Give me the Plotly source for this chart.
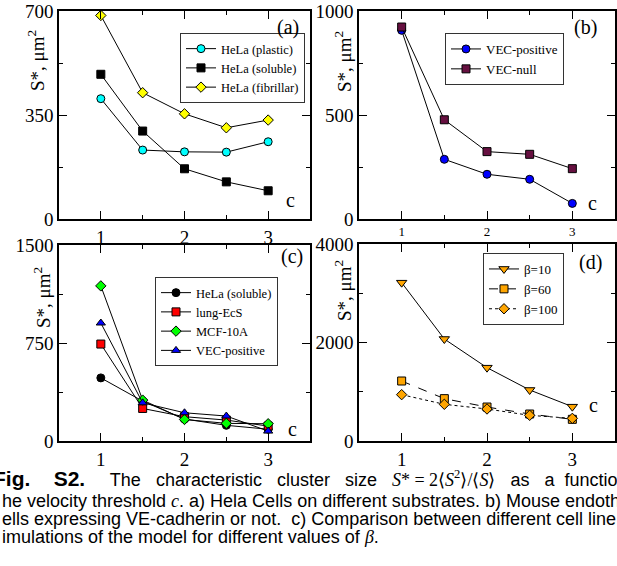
import plotly.graph_objects as go

# ---------------- data ----------------
c_vals = [1, 1.5, 2, 2.5, 3]
x_tickvals = [1, 2, 3]
x_ticktext = ["1", "2", "3"]

# (a) HeLa cells on different substrates
hela_plastic = [405, 232, 226, 225, 260]
hela_soluble = [487, 296, 169, 125, 95]
hela_fibrillar = [685, 425, 354, 307, 333]

# (b) mouse endothelial cells
vec_positive = [907, 287, 215, 191, 75]
vec_null = [923, 477, 324, 311, 242]

# (c) comparison between cell lines
c_hela_soluble = [483, 305, 168, 120, 90]
c_lung_ecs = [742, 249, 186, 160, 114]
c_mcf10a = [1187, 313, 165, 135, 132]
c_vec_positive = [903, 292, 216, 191, 76]

# (d) simulations, different beta
beta10 = [3215, 2071, 1489, 1036, 697]
beta60 = [1218, 860, 690, 548, 440]
beta100 = [941, 745, 650, 521, 460]

y_ticks_a = [0, 350, 700]
y_minor_a = [175, 525]
y_ticks_b = [0, 500, 1000]
y_minor_b = [250, 750]
y_ticks_c = [0, 750, 1500]
y_minor_c = [375, 1125]
y_ticks_d = [0, 2000, 4000]
y_minor_d = [1000, 3000]
x_minor = [1.5, 2.5]

W, H = 617, 566
SERIF = "Liberation Serif"
SANS = "Liberation Sans"


def px(x):
    return x / W


def py(y):
    return 1 - y / H


fig = go.Figure()


def add(x, y, name, sym, color, xa, ya, legend, size=8, dash="solid"):
    fig.add_trace(go.Scatter(
        x=x, y=y, name=name, mode="lines+markers",
        xaxis=xa, yaxis=ya, legend=legend,
        line=dict(color="black", width=1, dash=dash),
        marker=dict(symbol=sym, size=size, color=color,
                    line=dict(color="black", width=1)),
    ))


# panel a
add(c_vals, hela_plastic, "HeLa (plastic)", "circle", "#00FFFF", "x", "y", "legend", 8)
add(c_vals, hela_soluble, "HeLa (soluble)", "square", "#000000", "x", "y", "legend", 8)
add(c_vals, hela_fibrillar, "HeLa (fibrillar)", "diamond", "#FFFF00", "x", "y", "legend", 8)
# panel b
add(c_vals, vec_positive, "VEC-positive", "circle", "#0000FF", "x2", "y2", "legend2", 8)
add(c_vals, vec_null, "VEC-null", "square", "#661040", "x2", "y2", "legend2", 8)
# panel c
add(c_vals, c_hela_soluble, "HeLa (soluble)", "circle", "#000000", "x3", "y3", "legend3", 8)
add(c_vals, c_lung_ecs, "lung-EcS", "square", "#FF0000", "x3", "y3", "legend3", 8)
add(c_vals, c_mcf10a, "MCF-10A", "diamond", "#00FF00", "x3", "y3", "legend3", 8)
add(c_vals, c_vec_positive, "VEC-positive", "triangle-up", "#0000FF", "x3", "y3", "legend3", 8)
# panel d
add(c_vals, beta10, "β=10", "triangle-down", "#FFA500", "x4", "y4", "legend4", 9)
add(c_vals, beta60, "β=60", "square", "#FFA500", "x4", "y4", "legend4", 8, "dash")
add(c_vals, beta100, "β=100", "diamond", "#FFA500", "x4", "y4", "legend4", 8, "dot")


def xaxis(domain, anchor, fsize):
    return dict(domain=domain, anchor=anchor, range=[0.5, 3.5],
                tickvals=x_tickvals, ticktext=x_ticktext,
                ticks="inside", ticklen=8, tickwidth=1.2, tickcolor="black",
                minor=dict(tickvals=x_minor, ticks="inside", ticklen=4,
                           tickwidth=1.2, tickcolor="black"),
                showline=True, linewidth=1.5, linecolor="black", mirror="allticks",
                showgrid=False, zeroline=False, automargin=False,
                tickfont=dict(family=SERIF, size=fsize, color="black"))


def yaxis(domain, anchor, rng, ticks, minor):
    return dict(domain=domain, anchor=anchor, range=rng,
                tickvals=ticks, ticktext=[str(t) for t in ticks],
                ticks="inside", ticklen=8, tickwidth=1.2, tickcolor="black",
                minor=dict(tickvals=minor, ticks="inside", ticklen=4,
                           tickwidth=1.2, tickcolor="black"),
                showline=True, linewidth=1.5, linecolor="black", mirror="allticks",
                showgrid=False, zeroline=False, automargin=False,
                tickfont=dict(family=SERIF, size=19, color="black"))


xa_dom = [px(59), px(310)]
xb_dom = [px(359), px(615)]
ytop_dom = [py(219), py(11)]
ybot_dom = [py(441), py(245)]


def legend_cfg(x, y, fsize):
    return dict(x=px(x), y=py(y), xanchor="left", yanchor="top",
                bordercolor="#333333", borderwidth=1, bgcolor="white",
                font=dict(family=SERIF, size=fsize, color="black"),
                tracegroupgap=0, itemwidth=30)


fig.update_layout(
    width=W, height=H, margin=dict(l=0, r=0, t=0, b=0, autoexpand=False),
    paper_bgcolor="white", plot_bgcolor="white", showlegend=True,
    xaxis=xaxis(xa_dom, "y", 19),
    yaxis=yaxis(ytop_dom, "x", [0, 700], y_ticks_a, y_minor_a),
    xaxis2=xaxis(xb_dom, "y2", 13),
    yaxis2=yaxis(ytop_dom, "x2", [0, 1000], y_ticks_b, y_minor_b),
    xaxis3=xaxis(xa_dom, "y3", 19),
    yaxis3=yaxis(ybot_dom, "x3", [0, 1500], y_ticks_c, y_minor_c),
    xaxis4=xaxis(xb_dom, "y4", 19),
    yaxis4=yaxis([py(441), py(244)], "x4", [0, 4000], y_ticks_d, y_minor_d),
    legend=legend_cfg(180, 33, 12.5),
    legend2=legend_cfg(445, 33, 13),
    legend3=legend_cfg(155, 277, 12.5),
    legend4=legend_cfg(483, 253, 13),
)

ann = []
ytitle = "S*, μm<sup>2</sup>"
for (x, y) in [(36, 61), (343, 62), (42, 297), (343, 291)]:
    ann.append(dict(text=ytitle, x=px(x), y=py(y), xref="paper", yref="paper",
                    xanchor="center", yanchor="middle",
                    showarrow=False, textangle=-90,
                    font=dict(family=SERIF, size=19, color="black")))
for (t, x, y) in [("(a)", 288, 27), ("(b)", 585, 27), ("(c)", 292, 256), ("(d)", 590, 262)]:
    ann.append(dict(text=t, x=px(x), y=py(y), xref="paper", yref="paper",
                    xanchor="center", yanchor="middle",
                    showarrow=False, font=dict(family=SERIF, size=20, color="black")))
for (x, y) in [(290, 200), (592, 203), (292, 429), (593, 405)]:
    ann.append(dict(text="c", x=px(x), y=py(y), xref="paper", yref="paper",
                    xanchor="center", yanchor="middle",
                    showarrow=False, font=dict(family=SERIF, size=20, color="black")))

math = lambda s: "<span style='font-family:Liberation Serif'>" + s + "</span>"
g = "   "
caption = [
    ("<span style='font-size:21px'><b>Fig.    S2.</b></span>     The" + g + "characteristic" + g
     + "cluster" + g + "size" + g
     + math("<i>S</i>* = 2⟨<i>S</i><sup>2</sup>⟩/⟨<i>S</i>⟩") + g + "as" + g + "a" + "  " + "functio", 478, -9),
    ("he velocity threshold " + math("<i>c</i>") + ". a) Hela Cells on different substrates. b) Mouse endoth", 501, 0),
    ("ells expressing VE-cadherin or not.  c) Comparison between different cell line", 519, 0),
    ("imulations of the model for different values of " + math("<i>β</i>") + ".", 537, 0),
]
for (t, y, x) in caption:
    ann.append(dict(text=t, x=px(x), y=py(y), xref="paper", yref="paper",
                    xanchor="left", yanchor="middle", showarrow=False,
                    font=dict(family=SANS, size=18, color="black")))

fig.update_layout(annotations=ann)
fig.write_html("out.html", config={"displayModeBar": False},
               post_script="document.body.style.margin='0px';")
